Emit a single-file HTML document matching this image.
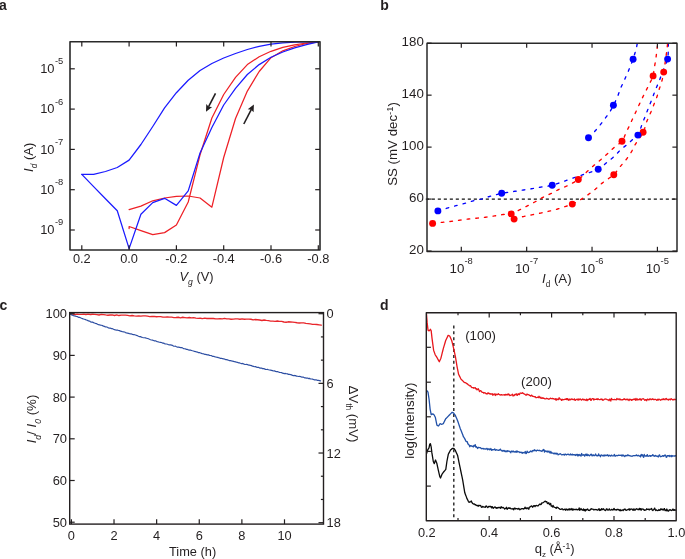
<!DOCTYPE html>
<html><head><meta charset="utf-8"><style>
html,body{margin:0;padding:0;background:#fff;width:685px;height:559px;overflow:hidden}
svg{display:block;will-change:transform}
text{font-family:"Liberation Sans", sans-serif;fill:#231f20}
</style></head><body>
<svg width="685" height="559" viewBox="0 0 685 559">
<text x="-1.00" y="9.60" font-size="14" text-anchor="start" font-weight="bold">a</text>
<text x="380.30" y="9.70" font-size="14" text-anchor="start" font-weight="bold">b</text>
<text x="-0.60" y="309.70" font-size="14" text-anchor="start" font-weight="bold">c</text>
<text x="380.00" y="309.90" font-size="14" text-anchor="start" font-weight="bold">d</text>
<path d="M129.10,228.60 L129.10,226.50 L140.92,230.70 L152.75,234.70 L164.57,232.60 L176.40,225.00 L188.22,202.00 L200.05,154.80 L211.88,118.00 L223.70,94.50 L235.52,77.40 L247.35,64.60 L259.18,56.70 L271.00,51.30 L282.83,47.30 L294.65,44.80 L306.48,43.00 L318.30,41.80" fill="none" stroke="#ee2026" stroke-width="1.25" stroke-linejoin="round" stroke-linecap="round" />
<path d="M129.10,209.60 L140.92,206.10 L152.75,200.80 L164.57,198.00 L176.40,196.30 L188.22,196.00 L200.05,198.00 L211.88,207.20 L223.70,157.50 L235.52,118.50 L247.35,91.10 L259.18,71.50 L271.00,57.70 L282.83,50.80 L294.65,46.50 L306.48,43.50 L318.30,41.80" fill="none" stroke="#ee2026" stroke-width="1.25" stroke-linejoin="round" stroke-linecap="round" />
<path d="M81.80,174.40 L93.62,174.40 L105.45,171.50 L117.27,167.50 L129.10,160.10 L140.92,144.50 L152.75,126.50 L164.57,107.80 L176.40,92.70 L188.22,80.30 L200.05,70.50 L211.88,63.50 L223.70,58.00 L235.52,53.50 L247.35,49.50 L259.18,46.30 L271.00,44.20 L282.83,42.80 L294.65,42.10 L306.48,41.80 L318.30,41.60" fill="none" stroke="#1a1aff" stroke-width="1.25" stroke-linejoin="round" stroke-linecap="round" />
<path d="M81.80,174.40 L93.62,186.60 L105.45,198.70 L117.27,210.80 L129.10,248.60 L140.92,214.20 L152.75,202.60 L164.57,198.30 L176.40,205.40 L188.22,190.90 L200.05,153.00 L211.88,127.50 L223.70,105.00 L235.52,88.30 L247.35,74.50 L259.18,64.60 L271.00,57.30 L282.83,52.00 L294.65,47.80 L306.48,44.60 L318.30,41.80" fill="none" stroke="#1a1aff" stroke-width="1.25" stroke-linejoin="round" stroke-linecap="round" />
<line x1="215.50" y1="93.30" x2="208.51" y2="106.91" stroke="#231f20" stroke-width="1.6" stroke-linecap="butt"/>
<path d="M206.00,111.80 L206.26,104.07 L208.65,106.64 L212.13,107.08 Z" fill="#231f20"/>
<line x1="243.80" y1="124.00" x2="251.36" y2="109.48" stroke="#231f20" stroke-width="1.6" stroke-linecap="butt"/>
<path d="M253.90,104.60 L253.59,112.33 L251.22,109.74 L247.74,109.29 Z" fill="#231f20"/>
<rect x="70.0" y="41.8" width="250.0" height="208.2" fill="none" stroke="#2a2a2a" stroke-width="1.6" stroke-linejoin="round"/>
<line x1="81.80" y1="41.80" x2="81.80" y2="46.60" stroke="#231f20" stroke-width="1.2" />
<line x1="81.80" y1="250.00" x2="81.80" y2="245.20" stroke="#231f20" stroke-width="1.2" />
<text x="81.80" y="262.60" font-size="12.8" text-anchor="middle" >0.2</text>
<line x1="129.10" y1="41.80" x2="129.10" y2="46.60" stroke="#231f20" stroke-width="1.2" />
<line x1="129.10" y1="250.00" x2="129.10" y2="245.20" stroke="#231f20" stroke-width="1.2" />
<text x="129.10" y="262.60" font-size="12.8" text-anchor="middle" >0.0</text>
<line x1="176.40" y1="41.80" x2="176.40" y2="46.60" stroke="#231f20" stroke-width="1.2" />
<line x1="176.40" y1="250.00" x2="176.40" y2="245.20" stroke="#231f20" stroke-width="1.2" />
<text x="176.40" y="262.60" font-size="12.8" text-anchor="middle" >-0.2</text>
<line x1="223.70" y1="41.80" x2="223.70" y2="46.60" stroke="#231f20" stroke-width="1.2" />
<line x1="223.70" y1="250.00" x2="223.70" y2="245.20" stroke="#231f20" stroke-width="1.2" />
<text x="223.70" y="262.60" font-size="12.8" text-anchor="middle" >-0.4</text>
<line x1="271.00" y1="41.80" x2="271.00" y2="46.60" stroke="#231f20" stroke-width="1.2" />
<line x1="271.00" y1="250.00" x2="271.00" y2="245.20" stroke="#231f20" stroke-width="1.2" />
<text x="271.00" y="262.60" font-size="12.8" text-anchor="middle" >-0.6</text>
<line x1="318.30" y1="41.80" x2="318.30" y2="46.60" stroke="#231f20" stroke-width="1.2" />
<line x1="318.30" y1="250.00" x2="318.30" y2="245.20" stroke="#231f20" stroke-width="1.2" />
<text x="318.30" y="262.60" font-size="12.8" text-anchor="middle" >-0.8</text>
<line x1="70.00" y1="68.80" x2="74.80" y2="68.80" stroke="#231f20" stroke-width="1.2" />
<line x1="320.00" y1="68.80" x2="315.20" y2="68.80" stroke="#231f20" stroke-width="1.2" />
<text x="54.50" y="73.10" font-size="12.9" text-anchor="end" >10</text>
<text x="55.00" y="64.20" font-size="9.4" text-anchor="start" >-5</text>
<line x1="70.00" y1="109.10" x2="74.80" y2="109.10" stroke="#231f20" stroke-width="1.2" />
<line x1="320.00" y1="109.10" x2="315.20" y2="109.10" stroke="#231f20" stroke-width="1.2" />
<text x="54.50" y="113.40" font-size="12.9" text-anchor="end" >10</text>
<text x="55.00" y="104.50" font-size="9.4" text-anchor="start" >-6</text>
<line x1="70.00" y1="149.40" x2="74.80" y2="149.40" stroke="#231f20" stroke-width="1.2" />
<line x1="320.00" y1="149.40" x2="315.20" y2="149.40" stroke="#231f20" stroke-width="1.2" />
<text x="54.50" y="153.70" font-size="12.9" text-anchor="end" >10</text>
<text x="55.00" y="144.80" font-size="9.4" text-anchor="start" >-7</text>
<line x1="70.00" y1="189.70" x2="74.80" y2="189.70" stroke="#231f20" stroke-width="1.2" />
<line x1="320.00" y1="189.70" x2="315.20" y2="189.70" stroke="#231f20" stroke-width="1.2" />
<text x="54.50" y="194.00" font-size="12.9" text-anchor="end" >10</text>
<text x="55.00" y="185.10" font-size="9.4" text-anchor="start" >-8</text>
<line x1="70.00" y1="230.00" x2="74.80" y2="230.00" stroke="#231f20" stroke-width="1.2" />
<line x1="320.00" y1="230.00" x2="315.20" y2="230.00" stroke="#231f20" stroke-width="1.2" />
<text x="54.50" y="234.30" font-size="12.9" text-anchor="end" >10</text>
<text x="55.00" y="225.40" font-size="9.4" text-anchor="start" >-9</text>
<text transform="translate(33.3,157.3) rotate(-90)" font-size="13" text-anchor="middle"><tspan font-style="italic">I</tspan><tspan font-size="8.4" font-style="italic" dy="3.9">d</tspan><tspan dy="-3.9"> (A)</tspan></text>
<text x="196.5" y="281.2" font-size="12.8" text-anchor="middle"><tspan font-style="italic">V</tspan><tspan font-size="8.6" font-style="italic" dy="3.4">g</tspan><tspan dy="-3.4"> (V)</tspan></text>
<defs><clipPath id="cb"><rect x="427.0" y="43.2" width="250.0" height="208.2"/></clipPath></defs>
<line x1="425.80" y1="199.08" x2="677.00" y2="199.08" stroke="#111" stroke-width="1.4" stroke-dasharray="3.1,2.9"/>
<path d="M588.50,137.70 L589.20,137.00 L589.91,136.32 L590.61,135.63 L591.31,134.94 L592.02,134.25 L592.72,133.55 L593.41,132.83 L594.10,132.10 L594.81,131.32 L595.52,130.52 L596.22,129.71 L596.92,128.88 L597.62,128.05 L598.32,127.21 L599.01,126.36 L599.70,125.50 L600.42,124.59 L601.15,123.66 L601.88,122.72 L602.60,121.76 L603.32,120.81 L604.02,119.86 L604.72,118.92 L605.40,118.00 L606.02,117.16 L606.64,116.32 L607.25,115.50 L607.86,114.67 L608.45,113.85 L609.02,113.04 L609.57,112.22 L610.10,111.40 L610.56,110.66 L610.99,109.93 L611.40,109.20 L611.80,108.48 L612.19,107.75 L612.59,106.99 L612.99,106.21 L613.40,105.40 L613.92,104.36 L614.46,103.27 L615.01,102.14 L615.56,100.98 L616.10,99.82 L616.63,98.65 L617.13,97.51 L617.60,96.40 L617.99,95.43 L618.34,94.49 L618.67,93.56 L618.99,92.63 L619.31,91.70 L619.65,90.76 L620.00,89.80 L620.40,88.80 L620.92,87.58 L621.48,86.31 L622.07,85.02 L622.68,83.71 L623.30,82.39 L623.92,81.08 L624.52,79.78 L625.10,78.50 L625.63,77.31 L626.16,76.13 L626.68,74.96 L627.20,73.80 L627.70,72.63 L628.21,71.46 L628.71,70.29 L629.20,69.10 L629.70,67.88 L630.19,66.65 L630.69,65.42 L631.17,64.18 L631.65,62.93 L632.11,61.69 L632.56,60.44 L633.00,59.20 L633.42,57.97 L633.83,56.72 L634.23,55.47 L634.62,54.22 L635.00,52.98 L635.35,51.76 L635.69,50.56 L636.00,49.40 L636.24,48.43 L636.46,47.48 L636.67,46.56 L636.86,45.64 L637.04,44.73 L637.22,43.83 L637.41,42.92 L637.60,42.00" fill="none" stroke="#0000ff" stroke-width="1.35" stroke-linejoin="round" stroke-linecap="round" stroke-dasharray="2.6,6.1" stroke-linecap="butt" clip-path="url(#cb)"/>
<path d="M437.90,210.90 L439.05,210.56 L440.20,210.22 L441.35,209.88 L442.50,209.54 L443.65,209.21 L444.80,208.87 L445.95,208.53 L447.10,208.20 L448.24,207.87 L449.38,207.54 L450.53,207.20 L451.67,206.87 L452.81,206.55 L453.94,206.22 L455.07,205.91 L456.20,205.60 L457.29,205.31 L458.37,205.04 L459.45,204.77 L460.52,204.51 L461.59,204.24 L462.66,203.97 L463.73,203.69 L464.80,203.40 L465.87,203.09 L466.94,202.76 L468.00,202.42 L469.07,202.07 L470.13,201.73 L471.19,201.40 L472.25,201.09 L473.30,200.80 L474.30,200.56 L475.28,200.34 L476.27,200.14 L477.25,199.95 L478.23,199.77 L479.21,199.57 L480.20,199.35 L481.20,199.10 L482.25,198.81 L483.30,198.49 L484.34,198.15 L485.39,197.81 L486.46,197.45 L487.54,197.09 L488.65,196.74 L489.80,196.40 L491.22,196.00 L492.73,195.57 L494.29,195.14 L495.88,194.71 L497.45,194.30 L498.96,193.92 L500.39,193.59 L501.70,193.30 L502.52,193.14 L503.29,193.01 L504.01,192.89 L504.71,192.80 L505.40,192.70 L506.10,192.61 L506.82,192.51 L507.60,192.40 L508.59,192.25 L509.62,192.09 L510.67,191.93 L511.75,191.76 L512.84,191.60 L513.94,191.43 L515.03,191.26 L516.10,191.10 L517.16,190.94 L518.22,190.78 L519.28,190.62 L520.34,190.45 L521.40,190.29 L522.46,190.13 L523.53,189.97 L524.60,189.80 L525.70,189.63 L526.82,189.46 L527.93,189.29 L529.05,189.11 L530.17,188.94 L531.29,188.76 L532.40,188.58 L533.50,188.40 L534.57,188.22 L535.62,188.03 L536.67,187.85 L537.71,187.66 L538.76,187.47 L539.82,187.28 L540.90,187.09 L542.00,186.90 L543.25,186.71 L544.54,186.53 L545.85,186.35 L547.18,186.18 L548.50,185.99 L549.78,185.79 L551.03,185.56 L552.20,185.30 L553.12,185.06 L553.99,184.80 L554.83,184.52 L555.65,184.23 L556.46,183.93 L557.28,183.62 L558.13,183.31 L559.00,183.00 L560.02,182.65 L561.06,182.28 L562.11,181.91 L563.18,181.53 L564.26,181.15 L565.34,180.76 L566.42,180.38 L567.50,180.00 L568.60,179.61 L569.71,179.22 L570.82,178.82 L571.93,178.43 L573.04,178.04 L574.14,177.65 L575.23,177.27 L576.30,176.90 L577.26,176.57 L578.20,176.26 L579.13,175.95 L580.05,175.64 L580.97,175.34 L581.90,175.03 L582.84,174.72 L583.80,174.40 L584.88,174.05 L586.00,173.68 L587.14,173.32 L588.28,172.95 L589.42,172.58 L590.53,172.22 L591.59,171.85 L592.60,171.50 L593.36,171.24 L594.07,171.00 L594.76,170.78 L595.43,170.55 L596.09,170.30 L596.77,170.02 L597.47,169.70 L598.20,169.30 L599.30,168.61 L600.45,167.79 L601.65,166.87 L602.86,165.89 L604.08,164.86 L605.29,163.84 L606.47,162.84 L607.60,161.90 L608.60,161.09 L609.58,160.30 L610.56,159.51 L611.52,158.72 L612.46,157.94 L613.37,157.16 L614.25,156.38 L615.10,155.60 L615.79,154.92 L616.44,154.24 L617.06,153.56 L617.66,152.89 L618.26,152.21 L618.87,151.54 L619.52,150.87 L620.20,150.20 L621.01,149.47 L621.86,148.74 L622.74,148.02 L623.64,147.30 L624.54,146.58 L625.45,145.86 L626.34,145.13 L627.20,144.40 L628.03,143.67 L628.86,142.92 L629.68,142.17 L630.50,141.41 L631.30,140.66 L632.09,139.94 L632.86,139.25 L633.60,138.60 L634.18,138.14 L634.75,137.73 L635.31,137.36 L635.86,137.00 L636.40,136.62 L636.92,136.19 L637.42,135.69 L637.90,135.10 L638.57,134.00 L639.18,132.68 L639.75,131.21 L640.29,129.63 L640.80,128.01 L641.30,126.41 L641.79,124.89 L642.30,123.50 L642.72,122.45 L643.13,121.45 L643.53,120.48 L643.93,119.52 L644.33,118.58 L644.72,117.64 L645.11,116.68 L645.50,115.70 L645.90,114.66 L646.30,113.60 L646.70,112.53 L647.10,111.46 L647.49,110.39 L647.89,109.32 L648.29,108.25 L648.70,107.20 L649.11,106.18 L649.52,105.17 L649.93,104.16 L650.35,103.16 L650.77,102.15 L651.18,101.14 L651.60,100.13 L652.00,99.10 L652.41,98.03 L652.81,96.93 L653.21,95.83 L653.60,94.73 L653.99,93.63 L654.39,92.53 L654.79,91.46 L655.20,90.40 L655.59,89.44 L655.99,88.49 L656.39,87.57 L656.79,86.65 L657.20,85.73 L657.60,84.80 L658.00,83.86 L658.40,82.90 L658.82,81.86 L659.23,80.79 L659.65,79.72 L660.06,78.64 L660.47,77.55 L660.88,76.46 L661.29,75.38 L661.70,74.30 L662.10,73.23 L662.51,72.15 L662.91,71.06 L663.32,69.98 L663.72,68.91 L664.11,67.85 L664.51,66.81 L664.90,65.80 L665.26,64.95 L665.63,64.15 L666.00,63.38 L666.37,62.62 L666.72,61.83 L667.05,61.00 L667.35,60.10 L667.60,59.10 L667.89,57.36 L668.09,55.40 L668.20,53.29 L668.25,51.06 L668.28,48.77 L668.30,46.47 L668.33,44.19 L668.40,42.00" fill="none" stroke="#0000ff" stroke-width="1.35" stroke-linejoin="round" stroke-linecap="round" stroke-dasharray="2.6,6.1" stroke-linecap="butt" clip-path="url(#cb)"/>
<path d="M432.60,223.40 L433.84,223.26 L435.09,223.12 L436.35,222.98 L437.60,222.84 L438.84,222.70 L440.08,222.57 L441.30,222.43 L442.50,222.30 L443.59,222.18 L444.66,222.07 L445.72,221.97 L446.77,221.86 L447.82,221.76 L448.87,221.65 L449.93,221.53 L451.00,221.40 L452.14,221.25 L453.28,221.10 L454.44,220.93 L455.60,220.76 L456.76,220.59 L457.92,220.42 L459.06,220.26 L460.20,220.10 L461.28,219.95 L462.35,219.81 L463.41,219.67 L464.47,219.53 L465.52,219.39 L466.58,219.26 L467.64,219.13 L468.70,219.00 L469.77,218.88 L470.84,218.76 L471.91,218.65 L472.98,218.54 L474.05,218.43 L475.13,218.32 L476.21,218.21 L477.30,218.10 L478.44,217.98 L479.58,217.86 L480.73,217.75 L481.88,217.63 L483.04,217.51 L484.19,217.38 L485.35,217.24 L486.50,217.10 L487.65,216.94 L488.81,216.78 L489.97,216.60 L491.12,216.42 L492.28,216.24 L493.43,216.06 L494.57,215.88 L495.70,215.70 L496.78,215.53 L497.87,215.35 L498.95,215.17 L500.02,215.00 L501.09,214.83 L502.14,214.67 L503.18,214.52 L504.20,214.40 L505.10,214.33 L505.98,214.30 L506.84,214.29 L507.70,214.29 L508.56,214.27 L509.42,214.22 L510.30,214.10 L511.20,213.90 L512.34,213.53 L513.51,213.05 L514.70,212.48 L515.90,211.85 L517.10,211.19 L518.29,210.53 L519.46,209.89 L520.60,209.30 L521.61,208.80 L522.60,208.31 L523.58,207.83 L524.55,207.35 L525.51,206.87 L526.47,206.39 L527.43,205.90 L528.40,205.40 L529.38,204.89 L530.36,204.37 L531.34,203.85 L532.31,203.33 L533.29,202.80 L534.26,202.27 L535.23,201.73 L536.20,201.20 L537.15,200.66 L538.10,200.12 L539.05,199.57 L539.99,199.02 L540.93,198.47 L541.88,197.94 L542.84,197.41 L543.80,196.90 L544.77,196.41 L545.76,195.94 L546.75,195.49 L547.74,195.04 L548.73,194.59 L549.73,194.14 L550.72,193.68 L551.70,193.20 L552.68,192.70 L553.65,192.19 L554.62,191.66 L555.59,191.13 L556.56,190.60 L557.54,190.09 L558.51,189.58 L559.50,189.10 L560.48,188.65 L561.46,188.24 L562.44,187.85 L563.43,187.46 L564.42,187.06 L565.43,186.65 L566.45,186.20 L567.50,185.70 L568.79,185.05 L570.13,184.37 L571.49,183.66 L572.87,182.91 L574.26,182.12 L575.63,181.29 L576.99,180.42 L578.30,179.50 L579.68,178.44 L581.06,177.28 L582.43,176.04 L583.78,174.78 L585.10,173.51 L586.38,172.27 L587.62,171.09 L588.80,170.00 L589.66,169.23 L590.47,168.50 L591.25,167.80 L592.01,167.12 L592.76,166.45 L593.52,165.78 L594.29,165.10 L595.10,164.40 L596.01,163.62 L596.94,162.84 L597.89,162.05 L598.86,161.25 L599.82,160.46 L600.77,159.66 L601.70,158.88 L602.60,158.10 L603.41,157.39 L604.19,156.69 L604.97,156.00 L605.73,155.31 L606.49,154.62 L607.25,153.92 L608.02,153.22 L608.80,152.50 L609.64,151.72 L610.48,150.93 L611.33,150.12 L612.18,149.31 L613.03,148.50 L613.89,147.71 L614.74,146.94 L615.60,146.20 L616.41,145.56 L617.26,144.98 L618.11,144.42 L618.96,143.87 L619.79,143.31 L620.58,142.70 L621.32,142.04 L622.00,141.30 L622.65,140.39 L623.22,139.39 L623.73,138.33 L624.20,137.22 L624.65,136.09 L625.09,134.96 L625.53,133.85 L626.00,132.80 L626.45,131.86 L626.89,130.95 L627.32,130.04 L627.75,129.15 L628.19,128.25 L628.62,127.35 L629.06,126.43 L629.50,125.50 L629.98,124.48 L630.47,123.44 L630.95,122.38 L631.45,121.32 L631.94,120.26 L632.43,119.20 L632.92,118.14 L633.40,117.10 L633.87,116.10 L634.33,115.12 L634.79,114.14 L635.25,113.16 L635.70,112.19 L636.17,111.20 L636.63,110.21 L637.10,109.20 L637.60,108.11 L638.11,107.00 L638.63,105.87 L639.14,104.74 L639.66,103.61 L640.17,102.49 L640.69,101.38 L641.20,100.30 L641.68,99.31 L642.15,98.33 L642.63,97.36 L643.10,96.40 L643.57,95.45 L644.05,94.50 L644.52,93.55 L645.00,92.60 L645.47,91.66 L645.94,90.74 L646.42,89.82 L646.89,88.89 L647.37,87.97 L647.84,87.03 L648.32,86.08 L648.80,85.10 L649.35,83.99 L649.95,82.85 L650.55,81.68 L651.15,80.50 L651.73,79.32 L652.26,78.16 L652.72,77.01 L653.10,75.90 L653.33,75.01 L653.50,74.16 L653.63,73.32 L653.72,72.48 L653.80,71.64 L653.88,70.79 L653.97,69.91 L654.10,69.00 L654.29,67.86 L654.50,66.68 L654.73,65.46 L654.96,64.22 L655.19,62.97 L655.41,61.72 L655.61,60.50 L655.80,59.30 L655.95,58.20 L656.09,57.12 L656.21,56.04 L656.33,54.97 L656.44,53.91 L656.56,52.84 L656.67,51.77 L656.80,50.70 L656.93,49.61 L657.07,48.53 L657.21,47.44 L657.34,46.35 L657.48,45.26 L657.62,44.18 L657.76,43.09 L657.90,42.00" fill="none" stroke="#ff0000" stroke-width="1.35" stroke-linejoin="round" stroke-linecap="round" stroke-dasharray="2.6,6.1" stroke-linecap="butt" clip-path="url(#cb)"/>
<path d="M514.10,219.00 L515.00,218.75 L515.89,218.49 L516.78,218.23 L517.67,217.98 L518.56,217.72 L519.46,217.47 L520.37,217.23 L521.30,217.00 L522.29,216.77 L523.30,216.55 L524.31,216.33 L525.34,216.12 L526.37,215.92 L527.41,215.72 L528.45,215.51 L529.50,215.30 L530.61,215.08 L531.73,214.85 L532.86,214.63 L533.99,214.40 L535.13,214.18 L536.26,213.95 L537.38,213.73 L538.50,213.50 L539.57,213.28 L540.64,213.06 L541.71,212.84 L542.76,212.62 L543.82,212.40 L544.88,212.17 L545.94,211.94 L547.00,211.70 L548.08,211.45 L549.16,211.21 L550.24,210.96 L551.32,210.70 L552.39,210.44 L553.47,210.17 L554.54,209.89 L555.60,209.60 L556.64,209.30 L557.67,208.99 L558.69,208.67 L559.71,208.35 L560.73,208.02 L561.75,207.68 L562.77,207.34 L563.80,207.00 L564.86,206.66 L565.93,206.32 L567.01,205.99 L568.09,205.64 L569.16,205.29 L570.22,204.92 L571.27,204.52 L572.30,204.10 L573.30,203.65 L574.28,203.18 L575.25,202.69 L576.21,202.18 L577.16,201.65 L578.11,201.11 L579.05,200.56 L580.00,200.00 L580.97,199.42 L581.93,198.81 L582.89,198.19 L583.85,197.56 L584.80,196.93 L585.74,196.28 L586.68,195.64 L587.60,195.00 L588.48,194.39 L589.34,193.78 L590.20,193.18 L591.05,192.57 L591.89,191.95 L592.73,191.32 L593.56,190.67 L594.40,190.00 L595.27,189.27 L596.13,188.50 L596.99,187.70 L597.85,186.90 L598.70,186.09 L599.56,185.30 L600.42,184.53 L601.30,183.80 L602.15,183.13 L603.02,182.47 L603.90,181.84 L604.78,181.21 L605.65,180.60 L606.52,179.99 L607.37,179.40 L608.20,178.80 L608.93,178.28 L609.66,177.79 L610.37,177.32 L611.07,176.85 L611.77,176.37 L612.46,175.86 L613.13,175.31 L613.80,174.70 L614.55,173.93 L615.26,173.10 L615.96,172.22 L616.65,171.30 L617.34,170.35 L618.04,169.40 L618.76,168.44 L619.50,167.50 L620.36,166.46 L621.26,165.41 L622.18,164.34 L623.11,163.26 L624.03,162.18 L624.93,161.10 L625.79,160.04 L626.60,159.00 L627.26,158.11 L627.89,157.24 L628.50,156.37 L629.08,155.51 L629.65,154.65 L630.21,153.78 L630.76,152.90 L631.30,152.00 L631.82,151.09 L632.31,150.17 L632.78,149.25 L633.24,148.33 L633.70,147.38 L634.19,146.42 L634.72,145.42 L635.30,144.40 L636.16,143.02 L637.14,141.57 L638.19,140.07 L639.27,138.55 L640.34,137.00 L641.37,135.45 L642.30,133.91 L643.10,132.40 L643.68,131.09 L644.18,129.77 L644.61,128.45 L645.00,127.14 L645.38,125.83 L645.75,124.53 L646.15,123.26 L646.60,122.00 L647.06,120.84 L647.54,119.69 L648.03,118.56 L648.53,117.44 L649.04,116.33 L649.53,115.22 L650.02,114.11 L650.50,113.00 L650.95,111.91 L651.40,110.81 L651.85,109.72 L652.29,108.63 L652.72,107.54 L653.15,106.45 L653.58,105.37 L654.00,104.30 L654.40,103.27 L654.81,102.26 L655.21,101.24 L655.61,100.23 L656.00,99.23 L656.38,98.22 L656.75,97.21 L657.10,96.20 L657.43,95.21 L657.74,94.23 L658.04,93.25 L658.33,92.27 L658.61,91.29 L658.90,90.30 L659.20,89.30 L659.50,88.30 L659.84,87.24 L660.19,86.17 L660.55,85.08 L660.91,84.00 L661.26,82.91 L661.60,81.83 L661.91,80.76 L662.20,79.70 L662.43,78.76 L662.64,77.86 L662.82,76.98 L663.00,76.10 L663.16,75.19 L663.33,74.24 L663.51,73.22 L663.70,72.10 L664.03,70.08 L664.39,67.79 L664.77,65.31 L665.14,62.71 L665.52,60.09 L665.87,57.53 L666.20,55.10 L666.50,52.90 L666.70,51.39 L666.87,49.96 L667.04,48.59 L667.19,47.26 L667.34,45.95 L667.49,44.65 L667.64,43.34 L667.80,42.00" fill="none" stroke="#ff0000" stroke-width="1.35" stroke-linejoin="round" stroke-linecap="round" stroke-dasharray="2.6,6.1" stroke-linecap="butt" clip-path="url(#cb)"/>
<circle cx="432.6" cy="223.4" r="3.45" fill="#ff0000"/>
<circle cx="511.2" cy="213.9" r="3.45" fill="#ff0000"/>
<circle cx="578.3" cy="179.5" r="3.45" fill="#ff0000"/>
<circle cx="622" cy="141.3" r="3.45" fill="#ff0000"/>
<circle cx="653.1" cy="75.9" r="3.45" fill="#ff0000"/>
<circle cx="514.1" cy="219.1" r="3.45" fill="#ff0000"/>
<circle cx="572.3" cy="204.1" r="3.45" fill="#ff0000"/>
<circle cx="613.8" cy="174.7" r="3.45" fill="#ff0000"/>
<circle cx="643.1" cy="132.3" r="3.45" fill="#ff0000"/>
<circle cx="663.7" cy="72.1" r="3.45" fill="#ff0000"/>
<circle cx="588.5" cy="137.8" r="3.45" fill="#0000ff"/>
<circle cx="613.4" cy="105.3" r="3.45" fill="#0000ff"/>
<circle cx="633.1" cy="59.2" r="3.45" fill="#0000ff"/>
<circle cx="437.9" cy="210.9" r="3.45" fill="#0000ff"/>
<circle cx="501.7" cy="193.3" r="3.45" fill="#0000ff"/>
<circle cx="552.2" cy="185.3" r="3.45" fill="#0000ff"/>
<circle cx="598.2" cy="169.3" r="3.45" fill="#0000ff"/>
<circle cx="637.9" cy="135.1" r="3.45" fill="#0000ff"/>
<circle cx="667.6" cy="59.1" r="3.45" fill="#0000ff"/>
<rect x="427.0" y="43.2" width="250.0" height="208.2" fill="none" stroke="#2a2a2a" stroke-width="1.5" stroke-linejoin="round"/>
<line x1="461.30" y1="43.20" x2="461.30" y2="47.80" stroke="#231f20" stroke-width="1.2" />
<line x1="461.30" y1="251.40" x2="461.30" y2="246.80" stroke="#231f20" stroke-width="1.2" />
<text x="464.40" y="272.60" font-size="13.3" text-anchor="end" >10</text>
<text x="464.50" y="263.80" font-size="9.4" text-anchor="start" >-8</text>
<line x1="526.67" y1="43.20" x2="526.67" y2="47.80" stroke="#231f20" stroke-width="1.2" />
<line x1="526.67" y1="251.40" x2="526.67" y2="246.80" stroke="#231f20" stroke-width="1.2" />
<text x="529.77" y="272.60" font-size="13.3" text-anchor="end" >10</text>
<text x="529.87" y="263.80" font-size="9.4" text-anchor="start" >-7</text>
<line x1="592.04" y1="43.20" x2="592.04" y2="47.80" stroke="#231f20" stroke-width="1.2" />
<line x1="592.04" y1="251.40" x2="592.04" y2="246.80" stroke="#231f20" stroke-width="1.2" />
<text x="595.14" y="272.60" font-size="13.3" text-anchor="end" >10</text>
<text x="595.24" y="263.80" font-size="9.4" text-anchor="start" >-6</text>
<line x1="657.41" y1="43.20" x2="657.41" y2="47.80" stroke="#231f20" stroke-width="1.2" />
<line x1="657.41" y1="251.40" x2="657.41" y2="246.80" stroke="#231f20" stroke-width="1.2" />
<text x="660.51" y="272.60" font-size="13.3" text-anchor="end" >10</text>
<text x="660.61" y="263.80" font-size="9.4" text-anchor="start" >-5</text>
<line x1="427.00" y1="251.04" x2="431.60" y2="251.04" stroke="#231f20" stroke-width="1.2" />
<line x1="677.00" y1="251.04" x2="672.40" y2="251.04" stroke="#231f20" stroke-width="1.2" />
<text x="423.80" y="253.94" font-size="13.3" text-anchor="end" >20</text>
<line x1="427.00" y1="199.08" x2="431.60" y2="199.08" stroke="#231f20" stroke-width="1.2" />
<line x1="677.00" y1="199.08" x2="672.40" y2="199.08" stroke="#231f20" stroke-width="1.2" />
<text x="423.80" y="201.98" font-size="13.3" text-anchor="end" >60</text>
<line x1="427.00" y1="147.12" x2="431.60" y2="147.12" stroke="#231f20" stroke-width="1.2" />
<line x1="677.00" y1="147.12" x2="672.40" y2="147.12" stroke="#231f20" stroke-width="1.2" />
<text x="423.80" y="150.02" font-size="13.3" text-anchor="end" >100</text>
<line x1="427.00" y1="95.16" x2="431.60" y2="95.16" stroke="#231f20" stroke-width="1.2" />
<line x1="677.00" y1="95.16" x2="672.40" y2="95.16" stroke="#231f20" stroke-width="1.2" />
<text x="423.80" y="98.06" font-size="13.3" text-anchor="end" >140</text>
<line x1="427.00" y1="43.20" x2="431.60" y2="43.20" stroke="#231f20" stroke-width="1.2" />
<line x1="677.00" y1="43.20" x2="672.40" y2="43.20" stroke="#231f20" stroke-width="1.2" />
<text x="423.80" y="46.10" font-size="13.3" text-anchor="end" >180</text>
<text transform="translate(397.4,144) rotate(-90)" font-size="13.3" text-anchor="middle">SS (mV dec<tspan font-size="9.4" dy="-4.8">-1</tspan><tspan dy="4.8">)</tspan></text>
<text x="556.8" y="282.5" font-size="13.3" text-anchor="middle"><tspan font-style="italic">I</tspan><tspan font-size="8.2" dy="4.2">d</tspan><tspan dy="-4.2"> (A)</tspan></text>
<path d="M70.50,314.16 L72.70,314.05 L74.90,314.48 L77.10,314.05 L79.30,314.44 L81.50,314.33 L83.70,314.12 L85.90,314.51 L88.10,314.16 L90.30,314.51 L92.50,314.25 L94.70,314.30 L96.90,314.61 L99.10,314.97 L101.30,314.45 L103.50,314.57 L105.70,314.94 L107.90,315.26 L110.10,315.02 L112.30,314.94 L114.50,315.48 L116.70,314.81 L118.90,315.54 L121.10,315.16 L123.30,315.13 L125.50,315.19 L127.70,315.43 L129.90,315.93 L132.10,315.51 L134.30,315.92 L136.50,316.05 L138.70,315.93 L140.90,316.15 L143.10,315.85 L145.30,315.93 L147.50,316.12 L149.70,316.58 L151.90,316.45 L154.10,316.44 L156.30,316.73 L158.50,316.70 L160.70,316.65 L162.90,317.12 L165.10,317.12 L167.30,316.83 L169.50,317.17 L171.70,317.20 L173.90,317.56 L176.10,317.52 L178.30,317.24 L180.50,317.87 L182.70,317.25 L184.90,317.57 L187.10,317.92 L189.30,317.52 L191.50,317.88 L193.70,317.61 L195.90,318.20 L198.10,318.35 L200.30,318.27 L202.50,318.57 L204.70,318.17 L206.90,318.53 L209.10,318.49 L211.30,318.52 L213.50,318.47 L215.70,318.82 L217.90,318.95 L220.10,318.62 L222.30,318.81 L224.50,318.37 L226.70,318.92 L228.90,318.92 L231.10,319.25 L233.30,319.16 L235.50,318.80 L237.70,318.95 L239.90,319.26 L242.10,318.82 L244.30,319.27 L246.50,319.13 L248.70,319.19 L250.90,319.25 L253.10,319.93 L255.30,319.53 L257.50,319.75 L259.70,319.98 L261.90,320.49 L264.10,319.99 L266.30,320.42 L268.50,320.64 L270.70,321.05 L272.90,321.15 L275.10,321.34 L277.30,321.03 L279.50,321.31 L281.70,321.43 L283.90,322.02 L286.10,322.26 L288.30,321.79 L290.50,321.99 L292.70,322.20 L294.90,322.38 L297.10,322.76 L299.30,323.02 L301.50,322.94 L303.70,322.91 L305.90,323.42 L308.10,323.57 L310.30,323.93 L312.50,324.44 L314.70,324.44 L316.90,324.53 L319.10,324.84 L321.30,325.11" fill="none" stroke="#e8262b" stroke-width="1.35" stroke-linejoin="round" stroke-linecap="round" />
<path d="M70.50,314.08 L71.50,314.87 L72.50,315.18 L73.50,315.60 L74.50,315.93 L75.50,316.10 L76.50,316.48 L77.50,316.70 L78.50,317.34 L79.50,317.42 L80.50,317.79 L81.50,318.23 L82.50,318.58 L83.50,319.03 L84.50,319.25 L85.50,319.59 L86.50,320.03 L87.50,320.37 L88.50,320.85 L89.50,321.04 L90.50,321.82 L91.50,322.05 L92.50,322.17 L93.50,322.58 L94.50,322.98 L95.50,323.34 L96.50,323.57 L97.50,324.28 L98.50,324.71 L99.50,324.79 L100.50,325.14 L101.50,325.28 L102.50,325.63 L103.50,326.08 L104.50,326.37 L105.50,326.98 L106.50,326.96 L107.50,327.21 L108.50,327.98 L109.50,328.07 L110.50,328.17 L111.50,328.66 L112.50,328.69 L113.50,329.21 L114.50,329.71 L115.50,329.93 L116.50,330.11 L117.50,330.16 L118.50,330.48 L119.50,330.64 L120.50,331.21 L121.50,331.36 L122.50,331.74 L123.50,331.79 L124.50,332.00 L125.50,332.57 L126.50,332.93 L127.50,333.14 L128.50,333.40 L129.50,333.69 L130.50,333.93 L131.50,333.96 L132.50,334.39 L133.50,334.59 L134.50,334.71 L135.50,335.00 L136.50,335.41 L137.50,335.68 L138.50,336.19 L139.50,336.60 L140.50,336.63 L141.50,337.16 L142.50,337.48 L143.50,337.74 L144.50,337.73 L145.50,337.95 L146.50,338.23 L147.50,338.50 L148.50,338.80 L149.50,339.29 L150.50,339.72 L151.50,339.98 L152.50,340.09 L153.50,340.46 L154.50,340.82 L155.50,340.75 L156.50,341.33 L157.50,341.74 L158.50,341.96 L159.50,342.23 L160.50,342.37 L161.50,342.50 L162.50,343.09 L163.50,343.13 L164.50,343.64 L165.50,344.00 L166.50,343.98 L167.50,344.24 L168.50,344.78 L169.50,344.93 L170.50,344.91 L171.50,345.14 L172.50,345.41 L173.50,346.04 L174.50,346.25 L175.50,346.17 L176.50,346.76 L177.50,347.09 L178.50,347.18 L179.50,347.28 L180.50,347.64 L181.50,347.69 L182.50,347.89 L183.50,348.63 L184.50,348.73 L185.50,348.94 L186.50,349.41 L187.50,349.44 L188.50,349.93 L189.50,350.18 L190.50,350.15 L191.50,350.45 L192.50,350.75 L193.50,351.00 L194.50,351.45 L195.50,351.56 L196.50,351.92 L197.50,352.04 L198.50,352.70 L199.50,352.69 L200.50,353.01 L201.50,353.34 L202.50,353.76 L203.50,353.78 L204.50,354.29 L205.50,354.35 L206.50,354.62 L207.50,354.88 L208.50,354.88 L209.50,355.35 L210.50,355.48 L211.50,355.65 L212.50,356.30 L213.50,356.24 L214.50,356.65 L215.50,357.03 L216.50,357.20 L217.50,357.34 L218.50,357.68 L219.50,357.95 L220.50,358.32 L221.50,358.23 L222.50,358.70 L223.50,358.79 L224.50,359.05 L225.50,359.55 L226.50,359.66 L227.50,359.93 L228.50,360.27 L229.50,360.59 L230.50,360.60 L231.50,360.93 L232.50,361.12 L233.50,361.37 L234.50,361.70 L235.50,361.83 L236.50,362.12 L237.50,362.34 L238.50,362.82 L239.50,362.94 L240.50,363.28 L241.50,363.56 L242.50,363.47 L243.50,363.87 L244.50,364.32 L245.50,364.51 L246.50,364.41 L247.50,364.65 L248.50,365.06 L249.50,365.12 L250.50,365.45 L251.50,365.61 L252.50,366.16 L253.50,366.45 L254.50,366.75 L255.50,366.62 L256.50,367.13 L257.50,367.34 L258.50,367.32 L259.50,367.92 L260.50,368.19 L261.50,368.05 L262.50,368.64 L263.50,368.59 L264.50,368.87 L265.50,369.35 L266.50,369.49 L267.50,369.38 L268.50,369.75 L269.50,370.01 L270.50,370.15 L271.50,370.31 L272.50,370.60 L273.50,371.02 L274.50,370.90 L275.50,371.40 L276.50,371.57 L277.50,371.59 L278.50,371.97 L279.50,372.35 L280.50,372.52 L281.50,372.53 L282.50,373.21 L283.50,373.34 L284.50,373.66 L285.50,373.45 L286.50,373.76 L287.50,373.86 L288.50,374.45 L289.50,374.42 L290.50,374.56 L291.50,374.92 L292.50,375.38 L293.50,375.54 L294.50,375.47 L295.50,375.62 L296.50,376.21 L297.50,376.23 L298.50,376.50 L299.50,376.39 L300.50,376.57 L301.50,377.09 L302.50,377.15 L303.50,377.18 L304.50,377.81 L305.50,377.85 L306.50,378.14 L307.50,377.98 L308.50,378.57 L309.50,378.38 L310.50,378.99 L311.50,379.00 L312.50,379.16 L313.50,379.48 L314.50,379.88 L315.50,379.77 L316.50,379.93 L317.50,380.35 L318.50,380.42 L319.50,380.58 L320.50,380.83" fill="none" stroke="#2e4fa3" stroke-width="1.2" stroke-linejoin="round" stroke-linecap="round" />
<rect x="69.7" y="312.6" width="253.8" height="211.5" fill="none" stroke="#231f20" stroke-width="1.4"/>
<line x1="69.70" y1="313.70" x2="74.70" y2="313.70" stroke="#231f20" stroke-width="1.2" />
<text x="67.00" y="318.30" font-size="12.9" text-anchor="end" >100</text>
<line x1="69.70" y1="355.40" x2="74.70" y2="355.40" stroke="#231f20" stroke-width="1.2" />
<text x="67.00" y="360.00" font-size="12.9" text-anchor="end" >90</text>
<line x1="69.70" y1="397.10" x2="74.70" y2="397.10" stroke="#231f20" stroke-width="1.2" />
<text x="67.00" y="401.70" font-size="12.9" text-anchor="end" >80</text>
<line x1="69.70" y1="438.80" x2="74.70" y2="438.80" stroke="#231f20" stroke-width="1.2" />
<text x="67.00" y="443.40" font-size="12.9" text-anchor="end" >70</text>
<line x1="69.70" y1="480.50" x2="74.70" y2="480.50" stroke="#231f20" stroke-width="1.2" />
<text x="67.00" y="485.10" font-size="12.9" text-anchor="end" >60</text>
<line x1="69.70" y1="522.20" x2="74.70" y2="522.20" stroke="#231f20" stroke-width="1.2" />
<text x="67.00" y="526.80" font-size="12.9" text-anchor="end" >50</text>
<line x1="71.40" y1="524.10" x2="71.40" y2="519.30" stroke="#231f20" stroke-width="1.2" />
<text x="71.40" y="539.60" font-size="12.8" text-anchor="middle" >0</text>
<line x1="114.02" y1="524.10" x2="114.02" y2="519.30" stroke="#231f20" stroke-width="1.2" />
<text x="114.02" y="539.60" font-size="12.8" text-anchor="middle" >2</text>
<line x1="156.64" y1="524.10" x2="156.64" y2="519.30" stroke="#231f20" stroke-width="1.2" />
<text x="156.64" y="539.60" font-size="12.8" text-anchor="middle" >4</text>
<line x1="199.26" y1="524.10" x2="199.26" y2="519.30" stroke="#231f20" stroke-width="1.2" />
<text x="199.26" y="539.60" font-size="12.8" text-anchor="middle" >6</text>
<line x1="241.88" y1="524.10" x2="241.88" y2="519.30" stroke="#231f20" stroke-width="1.2" />
<text x="241.88" y="539.60" font-size="12.8" text-anchor="middle" >8</text>
<line x1="284.50" y1="524.10" x2="284.50" y2="519.30" stroke="#231f20" stroke-width="1.2" />
<text x="284.50" y="539.60" font-size="12.8" text-anchor="middle" >10</text>
<line x1="323.50" y1="313.70" x2="318.50" y2="313.70" stroke="#231f20" stroke-width="1.2" />
<text x="326.60" y="318.30" font-size="12.8" text-anchor="start" >0</text>
<line x1="323.50" y1="336.92" x2="320.90" y2="336.92" stroke="#231f20" stroke-width="1.2" />
<line x1="323.50" y1="360.14" x2="320.90" y2="360.14" stroke="#231f20" stroke-width="1.2" />
<line x1="323.50" y1="383.36" x2="318.50" y2="383.36" stroke="#231f20" stroke-width="1.2" />
<text x="326.60" y="387.96" font-size="12.8" text-anchor="start" >6</text>
<line x1="323.50" y1="406.58" x2="320.90" y2="406.58" stroke="#231f20" stroke-width="1.2" />
<line x1="323.50" y1="429.80" x2="320.90" y2="429.80" stroke="#231f20" stroke-width="1.2" />
<line x1="323.50" y1="453.02" x2="318.50" y2="453.02" stroke="#231f20" stroke-width="1.2" />
<text x="326.60" y="457.62" font-size="12.8" text-anchor="start" >12</text>
<line x1="323.50" y1="476.24" x2="320.90" y2="476.24" stroke="#231f20" stroke-width="1.2" />
<line x1="323.50" y1="499.46" x2="320.90" y2="499.46" stroke="#231f20" stroke-width="1.2" />
<line x1="323.50" y1="522.68" x2="318.50" y2="522.68" stroke="#231f20" stroke-width="1.2" />
<text x="326.60" y="527.28" font-size="12.8" text-anchor="start" >18</text>
<text x="192.6" y="555.5" font-size="12.8" text-anchor="middle">Time (h)</text>
<text transform="translate(36.4,419.0) rotate(-90)" font-size="13.3" text-anchor="middle"><tspan font-style="italic">I</tspan><tspan font-size="8.6" font-style="italic" dy="4.4">d</tspan><tspan dy="-4.4">/ </tspan><tspan font-style="italic">I</tspan><tspan font-size="8.6" font-style="italic" dy="4.4">0</tspan><tspan dy="-4.4"> (%)</tspan></text>
<text transform="translate(349.0,414.0) rotate(90)" font-size="13.2" text-anchor="middle">ΔV<tspan font-size="8.4" dy="3.4">th</tspan><tspan dy="-3.4"> (mV)</tspan></text>
<defs><clipPath id="cd"><rect x="426.3" y="312.7" width="249.90000000000003" height="208.00000000000006"/></clipPath></defs>
<line x1="453.80" y1="325.40" x2="453.80" y2="520.70" stroke="#222" stroke-width="1.4" stroke-dasharray="3,2.9"/>
<path d="M426.40,312.90 L427.20,322.90 L428.00,330.10 L429.10,330.90 L429.75,330.10 L430.40,329.30 L431.20,330.90 L432.00,338.10 L432.80,344.15 L433.60,350.20 L434.45,352.60 L435.30,355.00 L436.10,356.20 L436.90,357.40 L437.50,358.50 L438.10,359.60 L438.70,360.70 L439.30,361.80 L440.10,360.00 L440.90,358.20 L441.50,355.80 L442.10,353.40 L442.70,351.00 L443.30,348.60 L444.10,345.90 L444.90,343.20 L445.70,340.50 L446.30,339.23 L446.90,337.95 L447.50,336.67 L448.10,335.40 L448.90,335.70 L449.70,336.00 L450.37,337.50 L451.03,339.00 L451.70,340.50 L452.37,343.20 L453.03,345.90 L453.70,348.60 L454.55,352.60 L455.40,356.60 L456.20,361.45 L457.00,366.30 L457.80,370.30 L458.60,374.30 L459.40,375.90 L460.20,377.50 L461.00,379.10 L461.64,379.74 L462.28,380.40 L462.92,381.04 L463.56,381.61 L464.20,382.46 L464.84,382.65 L465.48,382.72 L466.12,383.08 L466.76,383.66 L467.40,383.95 L468.04,384.57 L468.68,384.96 L469.32,385.54 L469.96,385.85 L470.60,385.71 L471.26,386.95 L471.91,387.61 L472.57,387.58 L473.23,387.55 L473.89,388.22 L474.54,387.75 L475.20,387.56 L475.81,388.94 L476.42,388.71 L477.03,389.94 L477.64,389.24 L478.25,388.70 L478.86,389.89 L479.47,391.64 L480.08,390.87 L480.69,390.64 L481.30,391.28 L481.91,392.15 L482.52,392.29 L483.13,392.28 L483.74,393.16 L484.35,392.89 L484.96,392.65 L485.57,393.15 L486.18,393.89 L486.79,393.67 L487.40,393.86 L488.01,392.76 L488.61,393.34 L489.22,393.88 L489.82,393.37 L490.43,394.18 L491.04,393.98 L491.64,394.21 L492.25,393.65 L492.85,395.23 L493.46,394.57 L494.06,393.83 L494.67,394.06 L495.28,395.49 L495.88,393.93 L496.49,394.66 L497.09,394.78 L497.70,394.30 L498.31,393.70 L498.92,394.49 L499.53,394.63 L500.14,395.10 L500.75,394.96 L501.36,394.58 L501.97,395.08 L502.58,394.96 L503.19,394.82 L503.80,394.78 L504.41,394.66 L505.02,395.22 L505.63,394.31 L506.24,394.58 L506.85,394.98 L507.46,394.21 L508.07,394.83 L508.68,394.01 L509.29,394.78 L509.90,395.51 L510.53,395.47 L511.16,395.09 L511.79,394.96 L512.42,394.27 L513.05,396.01 L513.68,395.25 L514.32,395.53 L514.95,394.41 L515.58,394.75 L516.21,393.81 L516.84,395.21 L517.47,395.25 L518.10,393.66 L518.74,394.50 L519.38,394.70 L520.01,393.21 L520.65,393.00 L521.29,393.24 L521.93,393.30 L522.56,392.70 L523.20,393.32 L523.84,393.67 L524.48,394.12 L525.11,394.40 L525.75,395.08 L526.39,395.13 L527.02,394.00 L527.66,394.68 L528.30,394.62 L528.93,394.78 L529.56,395.49 L530.19,395.71 L530.82,396.15 L531.45,395.17 L532.08,395.53 L532.72,396.37 L533.35,396.44 L533.98,396.55 L534.61,396.86 L535.24,396.64 L535.87,397.62 L536.50,397.59 L537.13,397.44 L537.76,397.21 L538.39,397.58 L539.02,396.27 L539.65,397.32 L540.28,397.97 L540.92,397.22 L541.55,398.25 L542.18,398.31 L542.81,397.57 L543.44,398.28 L544.07,398.34 L544.70,398.85 L545.36,398.97 L546.03,398.66 L546.69,398.24 L547.35,398.67 L548.01,398.75 L548.67,399.23 L549.34,399.02 L550.00,398.50 L550.61,398.17 L551.22,398.71 L551.82,398.52 L552.43,398.33 L553.04,398.89 L553.65,398.69 L554.26,399.03 L554.86,399.27 L555.47,398.76 L556.08,400.28 L556.69,398.83 L557.30,399.63 L557.90,399.10 L558.51,399.65 L559.12,397.74 L559.73,398.65 L560.34,399.21 L560.94,399.41 L561.55,400.38 L562.16,399.28 L562.77,399.81 L563.38,399.54 L563.98,399.65 L564.59,399.42 L565.20,399.06 L565.81,399.44 L566.42,398.58 L567.02,399.83 L567.63,398.63 L568.24,399.34 L568.85,400.38 L569.46,399.10 L570.06,399.24 L570.67,399.88 L571.28,399.26 L571.89,398.82 L572.50,399.41 L573.10,399.60 L573.71,399.68 L574.32,398.88 L574.93,400.27 L575.54,400.24 L576.14,399.34 L576.75,399.49 L577.36,399.11 L577.97,400.14 L578.58,398.98 L579.18,399.75 L579.79,399.13 L580.40,399.02 L581.01,399.80 L581.62,400.14 L582.22,399.40 L582.83,399.04 L583.44,399.86 L584.05,399.38 L584.66,399.58 L585.26,400.25 L585.87,400.04 L586.48,399.13 L587.09,400.68 L587.70,399.43 L588.30,399.86 L588.91,399.07 L589.52,399.41 L590.13,398.47 L590.74,400.42 L591.34,400.19 L591.95,398.77 L592.56,398.61 L593.17,398.55 L593.78,400.09 L594.38,399.19 L594.99,399.41 L595.60,399.28 L596.21,399.39 L596.82,398.86 L597.42,399.47 L598.03,398.67 L598.64,399.42 L599.25,399.63 L599.86,399.72 L600.46,399.34 L601.07,398.97 L601.68,399.56 L602.29,399.21 L602.90,400.34 L603.50,399.90 L604.11,399.41 L604.72,399.22 L605.33,399.10 L605.94,398.97 L606.54,399.29 L607.15,399.65 L607.76,399.77 L608.37,399.80 L608.98,400.65 L609.58,399.11 L610.19,399.51 L610.80,401.04 L611.41,398.47 L612.02,399.21 L612.62,399.59 L613.23,399.58 L613.84,399.72 L614.45,399.37 L615.06,399.70 L615.66,399.53 L616.27,399.92 L616.88,398.46 L617.49,399.01 L618.10,399.50 L618.70,398.93 L619.31,398.93 L619.92,399.85 L620.53,399.14 L621.14,399.85 L621.74,399.91 L622.35,399.67 L622.96,399.78 L623.57,399.44 L624.18,398.72 L624.78,399.48 L625.39,399.75 L626.00,399.21 L626.61,399.45 L627.22,399.91 L627.82,399.02 L628.43,399.85 L629.04,400.52 L629.65,399.19 L630.26,399.58 L630.86,399.42 L631.47,400.35 L632.08,399.67 L632.69,399.99 L633.30,399.12 L633.90,399.49 L634.51,399.49 L635.12,398.52 L635.73,400.29 L636.34,399.99 L636.94,398.54 L637.55,399.91 L638.16,399.43 L638.77,399.75 L639.38,399.70 L639.98,398.68 L640.59,399.38 L641.20,400.32 L641.81,399.18 L642.42,398.94 L643.03,398.75 L643.64,398.83 L644.25,399.68 L644.86,400.43 L645.47,399.74 L646.08,399.64 L646.69,400.73 L647.31,399.21 L647.92,399.13 L648.53,399.79 L649.14,399.80 L649.75,398.94 L650.36,398.86 L650.97,399.66 L651.58,399.64 L652.19,398.78 L652.80,399.39 L653.41,399.20 L654.02,399.75 L654.63,399.44 L655.24,399.45 L655.85,399.31 L656.46,400.08 L657.07,400.26 L657.68,399.30 L658.29,399.97 L658.91,399.08 L659.52,399.54 L660.13,399.91 L660.74,400.33 L661.35,399.29 L661.96,399.46 L662.57,399.61 L663.18,398.68 L663.79,399.51 L664.40,399.13 L665.01,399.70 L665.62,398.88 L666.23,398.41 L666.84,399.52 L667.45,399.64 L668.06,399.20 L668.67,399.99 L669.28,399.35 L669.89,399.17 L670.51,399.76 L671.12,398.64 L671.73,399.13 L672.34,399.49 L672.95,399.97 L673.56,399.41 L674.17,399.67 L674.78,399.14 L675.39,399.67 L676.00,399.50" fill="none" stroke="#e8161b" stroke-width="1.3" stroke-linejoin="round" stroke-linecap="round" clip-path="url(#cd)"/>
<path d="M426.90,390.60 L428.00,392.20 L429.10,399.50 L430.10,409.10 L431.20,414.70 L432.00,414.30 L432.80,413.90 L434.00,414.70 L434.65,415.95 L435.30,417.20 L436.10,421.20 L436.90,425.20 L437.70,425.60 L438.50,426.00 L439.30,424.80 L440.10,423.60 L440.90,424.00 L441.70,424.40 L442.50,424.00 L443.30,423.60 L444.10,422.00 L444.90,420.40 L445.70,418.80 L446.30,418.20 L446.90,417.60 L447.50,417.00 L448.10,416.40 L448.90,415.57 L449.70,414.73 L450.50,413.90 L451.30,413.10 L452.10,412.30 L452.90,412.70 L453.70,413.10 L454.55,414.30 L455.40,415.50 L456.00,416.93 L456.60,418.35 L457.20,419.77 L457.80,421.20 L458.60,423.60 L459.40,426.00 L460.20,428.40 L460.84,430.00 L461.48,431.60 L462.12,433.22 L462.76,434.75 L463.40,436.70 L464.04,437.42 L464.68,438.68 L465.32,439.87 L465.96,441.33 L466.60,441.58 L467.24,441.73 L467.88,443.71 L468.52,444.46 L469.16,445.00 L469.80,446.75 L470.48,445.56 L471.15,445.74 L471.82,446.26 L472.50,446.10 L473.18,446.97 L473.85,445.52 L474.52,446.14 L475.20,444.61 L475.81,447.14 L476.42,446.68 L477.03,447.58 L477.64,448.44 L478.25,447.45 L478.86,447.50 L479.47,447.56 L480.08,447.56 L480.69,447.86 L481.30,448.75 L481.94,448.48 L482.57,448.56 L483.21,448.49 L483.85,449.15 L484.49,448.98 L485.12,448.70 L485.76,449.20 L486.40,448.82 L487.04,448.33 L487.68,449.83 L488.31,449.34 L488.95,448.62 L489.59,449.81 L490.23,449.46 L490.86,448.48 L491.50,450.29 L492.14,449.65 L492.77,450.02 L493.41,449.70 L494.05,449.57 L494.69,448.86 L495.32,450.31 L495.96,449.85 L496.60,449.74 L497.24,450.16 L497.88,450.07 L498.51,450.46 L499.15,449.95 L499.79,450.19 L500.43,449.10 L501.06,450.10 L501.70,450.77 L502.31,451.20 L502.91,450.33 L503.52,450.53 L504.12,451.53 L504.73,450.54 L505.34,451.19 L505.94,451.78 L506.55,450.94 L507.15,451.66 L507.76,450.66 L508.36,451.23 L508.97,451.13 L509.58,451.30 L510.18,451.93 L510.79,452.69 L511.39,451.07 L512.00,451.18 L512.60,451.83 L513.20,451.03 L513.80,451.93 L514.40,452.03 L515.00,451.61 L515.60,452.11 L516.20,451.02 L516.80,452.34 L517.40,451.13 L518.00,451.65 L518.60,451.78 L519.20,451.91 L519.80,452.66 L520.40,452.29 L521.00,452.08 L521.60,452.65 L522.20,453.27 L522.81,452.37 L523.42,452.54 L524.03,452.99 L524.64,452.43 L525.25,451.54 L525.86,453.59 L526.47,453.40 L527.08,451.07 L527.69,452.11 L528.30,452.33 L528.91,452.50 L529.52,452.21 L530.13,451.56 L530.74,451.00 L531.35,451.51 L531.96,451.89 L532.57,450.59 L533.18,450.50 L533.79,450.92 L534.40,449.73 L535.03,450.63 L535.66,450.51 L536.29,450.98 L536.92,450.32 L537.55,450.20 L538.18,450.44 L538.82,450.61 L539.45,450.25 L540.08,450.60 L540.71,450.98 L541.34,451.20 L541.97,451.46 L542.60,450.07 L543.23,450.42 L543.86,449.44 L544.49,452.01 L545.12,450.72 L545.75,451.25 L546.38,451.71 L547.02,450.83 L547.65,451.99 L548.28,451.87 L548.91,451.03 L549.54,452.35 L550.17,453.00 L550.80,451.47 L551.41,453.06 L552.03,452.86 L552.64,453.12 L553.25,453.22 L553.87,453.82 L554.48,453.10 L555.09,453.82 L555.71,453.23 L556.32,453.98 L556.93,453.25 L557.55,453.76 L558.16,454.89 L558.77,454.31 L559.39,454.09 L560.00,453.67 L560.62,453.88 L561.24,454.44 L561.85,454.87 L562.47,454.61 L563.09,454.68 L563.71,454.39 L564.33,455.17 L564.95,454.23 L565.56,454.16 L566.18,454.97 L566.80,454.53 L567.42,454.36 L568.04,454.22 L568.65,454.41 L569.27,454.92 L569.89,454.79 L570.51,453.94 L571.13,454.86 L571.75,454.74 L572.36,454.11 L572.98,455.11 L573.60,454.55 L574.22,454.53 L574.84,455.17 L575.45,455.48 L576.07,454.39 L576.69,455.03 L577.31,454.33 L577.93,456.10 L578.55,454.57 L579.16,455.52 L579.78,454.53 L580.40,455.35 L581.01,456.13 L581.62,453.53 L582.22,454.70 L582.83,455.23 L583.44,454.92 L584.05,454.62 L584.66,456.18 L585.26,455.06 L585.87,454.12 L586.48,455.51 L587.09,454.11 L587.70,455.70 L588.30,454.76 L588.91,455.18 L589.52,455.80 L590.13,455.19 L590.74,454.37 L591.34,454.22 L591.95,455.82 L592.56,455.59 L593.17,454.75 L593.78,455.68 L594.38,455.50 L594.99,455.59 L595.60,454.01 L596.21,455.10 L596.82,455.77 L597.42,455.70 L598.03,455.79 L598.64,453.97 L599.25,455.43 L599.86,455.62 L600.46,456.77 L601.07,454.85 L601.68,455.21 L602.29,455.42 L602.90,455.91 L603.50,455.19 L604.11,456.08 L604.72,455.03 L605.33,455.62 L605.94,455.20 L606.54,455.59 L607.15,455.14 L607.76,454.65 L608.37,456.15 L608.98,455.72 L609.58,455.26 L610.19,455.70 L610.80,456.14 L611.41,455.07 L612.02,455.55 L612.62,455.91 L613.23,455.91 L613.84,455.44 L614.45,454.47 L615.06,456.31 L615.66,455.81 L616.27,455.64 L616.88,455.49 L617.49,455.79 L618.10,455.41 L618.70,455.09 L619.31,455.25 L619.92,455.33 L620.53,455.33 L621.14,455.03 L621.74,456.02 L622.35,454.96 L622.96,456.04 L623.57,455.13 L624.18,455.88 L624.78,456.45 L625.39,455.81 L626.00,455.30 L626.61,455.73 L627.22,455.79 L627.82,454.76 L628.43,455.38 L629.04,455.81 L629.65,455.47 L630.26,455.77 L630.86,456.14 L631.47,456.16 L632.08,456.24 L632.69,456.07 L633.30,455.59 L633.90,455.74 L634.51,455.61 L635.12,455.59 L635.73,455.67 L636.34,454.82 L636.94,455.59 L637.55,455.76 L638.16,455.24 L638.77,455.77 L639.38,456.07 L639.98,455.70 L640.59,456.94 L641.20,454.37 L641.81,455.69 L642.42,454.80 L643.03,456.35 L643.64,457.27 L644.25,454.44 L644.86,455.89 L645.47,456.11 L646.08,455.66 L646.69,456.13 L647.31,454.60 L647.92,456.31 L648.53,456.05 L649.14,455.86 L649.75,455.53 L650.36,456.20 L650.97,455.59 L651.58,455.98 L652.19,455.58 L652.80,454.63 L653.41,455.85 L654.02,455.98 L654.63,456.29 L655.24,455.40 L655.85,455.87 L656.46,456.23 L657.07,455.97 L657.68,456.58 L658.29,456.99 L658.91,455.40 L659.52,454.85 L660.13,456.38 L660.74,456.75 L661.35,456.42 L661.96,456.37 L662.57,455.58 L663.18,455.53 L663.79,456.42 L664.40,455.43 L665.01,454.94 L665.62,455.39 L666.23,457.31 L666.84,457.01 L667.45,455.57 L668.06,455.55 L668.67,456.09 L669.28,455.55 L669.89,456.69 L670.51,455.93 L671.12,455.37 L671.73,456.70 L672.34,455.66 L672.95,456.10 L673.56,455.98 L674.17,455.82 L674.78,456.17 L675.39,455.62 L676.00,456.00" fill="none" stroke="#2251a8" stroke-width="1.3" stroke-linejoin="round" stroke-linecap="round" clip-path="url(#cd)"/>
<path d="M426.60,453.60 L427.20,451.50 L428.00,449.30 L429.00,447.90 L429.70,444.30 L430.40,443.60 L431.20,447.20 L431.90,452.90 L432.60,457.20 L433.30,461.50 L434.30,463.60 L435.50,460.00 L436.20,461.80 L436.90,463.60 L437.60,466.85 L438.30,470.10 L439.05,473.30 L439.80,476.50 L440.50,478.00 L441.20,476.20 L441.90,474.40 L442.60,473.43 L443.30,472.47 L444.00,471.50 L444.60,470.80 L445.20,470.10 L445.80,469.40 L446.90,461.50 L447.60,457.90 L448.30,454.30 L449.03,452.87 L449.77,451.43 L450.50,450.00 L451.20,449.43 L451.90,448.87 L452.60,448.30 L453.35,448.45 L454.10,448.60 L454.80,449.65 L455.50,450.70 L456.23,452.40 L456.97,454.10 L457.70,455.80 L458.40,459.35 L459.10,462.90 L460.00,467.20 L460.90,471.50 L461.50,474.37 L462.10,477.23 L462.70,480.10 L463.40,484.40 L464.10,488.68 L464.80,492.82 L465.53,494.71 L466.27,496.63 L467.00,498.69 L467.70,499.92 L468.40,501.34 L469.10,502.36 L469.83,501.84 L470.57,501.87 L471.30,501.03 L472.00,502.67 L472.70,503.52 L473.40,504.02 L474.00,503.88 L474.60,504.10 L475.20,505.01 L475.80,504.71 L476.40,505.39 L477.00,505.55 L477.61,505.47 L478.23,506.27 L478.84,505.28 L479.46,505.56 L480.07,505.43 L480.69,505.58 L481.30,507.13 L481.98,507.32 L482.67,506.35 L483.35,506.74 L484.03,507.17 L484.72,507.02 L485.40,507.32 L486.00,505.88 L486.61,506.29 L487.21,506.98 L487.81,507.61 L488.42,506.85 L489.02,506.31 L489.63,506.65 L490.23,506.50 L490.83,506.42 L491.44,507.87 L492.04,506.63 L492.64,507.06 L493.25,508.38 L493.85,507.83 L494.46,507.36 L495.06,506.83 L495.66,507.48 L496.27,508.24 L496.87,507.68 L497.47,508.10 L498.08,507.44 L498.68,507.72 L499.29,507.33 L499.89,507.75 L500.49,508.31 L501.10,506.70 L501.70,507.56 L502.30,507.81 L502.90,507.39 L503.50,507.62 L504.10,508.34 L504.70,509.13 L505.30,508.38 L505.90,508.26 L506.50,507.20 L507.10,509.36 L507.70,508.31 L508.30,508.31 L508.90,507.73 L509.50,508.43 L510.10,507.88 L510.70,508.64 L511.30,508.95 L511.90,508.75 L512.50,508.97 L513.10,508.36 L513.70,509.79 L514.30,508.61 L514.90,507.98 L515.50,509.02 L516.10,508.74 L516.74,508.55 L517.38,508.90 L518.01,509.24 L518.65,508.32 L519.29,508.90 L519.92,509.79 L520.56,509.30 L521.20,508.76 L521.84,508.88 L522.48,508.69 L523.11,508.69 L523.75,509.11 L524.39,508.58 L525.02,507.14 L525.66,508.53 L526.30,507.97 L526.92,508.74 L527.55,507.84 L528.17,508.15 L528.79,509.22 L529.42,507.14 L530.04,506.95 L530.66,506.63 L531.28,505.89 L531.91,506.06 L532.53,507.26 L533.15,506.51 L533.78,505.63 L534.40,505.71 L535.02,506.67 L535.64,505.53 L536.26,505.48 L536.88,505.60 L537.50,505.91 L538.12,505.96 L538.74,505.12 L539.36,504.29 L539.98,504.01 L540.60,504.68 L541.28,504.14 L541.97,502.78 L542.65,502.92 L543.33,502.51 L544.02,502.05 L544.70,501.40 L545.38,501.19 L546.07,501.95 L546.75,501.62 L547.43,503.57 L548.12,503.44 L548.80,502.68 L549.41,504.63 L550.02,504.72 L550.63,503.42 L551.24,506.06 L551.85,505.84 L552.46,506.98 L553.07,505.39 L553.68,506.84 L554.29,507.16 L554.90,507.42 L555.54,507.64 L556.17,508.41 L556.81,507.12 L557.45,507.50 L558.09,507.65 L558.73,508.39 L559.36,508.60 L560.00,509.42 L560.62,509.37 L561.24,509.24 L561.85,508.83 L562.47,508.98 L563.09,509.83 L563.71,509.73 L564.33,509.35 L564.95,509.10 L565.56,510.24 L566.18,508.96 L566.80,509.72 L567.42,510.04 L568.04,509.20 L568.65,509.86 L569.27,508.71 L569.89,510.00 L570.51,509.53 L571.13,508.47 L571.75,509.83 L572.36,508.91 L572.98,510.22 L573.60,509.06 L574.22,509.38 L574.84,509.66 L575.45,509.30 L576.07,509.67 L576.69,509.20 L577.31,509.94 L577.93,509.55 L578.55,509.69 L579.16,507.92 L579.78,510.28 L580.40,509.62 L581.00,508.53 L581.60,509.66 L582.21,509.88 L582.81,510.24 L583.41,508.95 L584.01,510.53 L584.61,509.50 L585.22,511.04 L585.82,509.51 L586.42,510.01 L587.02,509.38 L587.62,508.93 L588.23,510.26 L588.83,510.14 L589.43,510.52 L590.03,510.11 L590.63,509.26 L591.24,508.60 L591.84,509.21 L592.44,509.19 L593.04,509.11 L593.64,509.95 L594.25,509.80 L594.85,509.44 L595.45,509.70 L596.05,509.51 L596.65,509.73 L597.26,510.05 L597.86,510.18 L598.46,509.19 L599.06,508.70 L599.66,510.46 L600.27,509.67 L600.87,510.26 L601.47,508.61 L602.07,509.40 L602.67,509.62 L603.28,508.74 L603.88,509.29 L604.48,510.03 L605.08,510.25 L605.68,510.56 L606.29,509.08 L606.89,508.76 L607.49,509.91 L608.09,510.16 L608.69,509.72 L609.30,508.82 L609.90,510.07 L610.50,510.08 L611.10,509.93 L611.70,509.31 L612.30,509.78 L612.91,510.07 L613.51,509.26 L614.11,508.49 L614.71,509.80 L615.31,509.89 L615.92,509.61 L616.52,510.13 L617.12,509.25 L617.72,509.55 L618.32,509.42 L618.93,509.94 L619.53,510.56 L620.13,509.45 L620.73,510.83 L621.33,510.52 L621.94,510.07 L622.54,509.95 L623.14,510.66 L623.74,509.49 L624.34,509.53 L624.95,508.96 L625.55,509.88 L626.15,510.41 L626.75,509.92 L627.35,509.85 L627.96,509.48 L628.56,509.70 L629.16,508.74 L629.76,510.23 L630.36,509.35 L630.97,508.94 L631.57,509.15 L632.17,509.11 L632.77,510.11 L633.37,510.23 L633.98,508.79 L634.58,510.16 L635.18,510.13 L635.78,509.25 L636.38,508.71 L636.99,509.15 L637.59,509.22 L638.19,509.81 L638.79,509.39 L639.39,508.38 L640.00,509.74 L640.60,508.68 L641.20,510.14 L641.81,508.88 L642.42,509.19 L643.03,509.10 L643.64,509.30 L644.25,510.41 L644.86,510.14 L645.47,510.00 L646.08,509.83 L646.69,508.72 L647.31,509.34 L647.92,509.33 L648.53,509.08 L649.14,509.97 L649.75,509.23 L650.36,509.25 L650.97,509.06 L651.58,508.45 L652.19,510.05 L652.80,510.50 L653.41,509.81 L654.02,509.12 L654.63,508.09 L655.24,509.82 L655.85,510.46 L656.46,509.91 L657.07,510.29 L657.68,510.63 L658.29,510.42 L658.91,509.49 L659.52,510.39 L660.13,510.23 L660.74,508.85 L661.35,509.53 L661.96,508.92 L662.57,509.72 L663.18,510.14 L663.79,509.15 L664.40,508.57 L665.01,510.58 L665.62,510.04 L666.23,510.70 L666.84,509.03 L667.45,510.46 L668.06,511.08 L668.67,511.04 L669.28,509.72 L669.89,510.01 L670.51,509.76 L671.12,510.46 L671.73,510.49 L672.34,509.92 L672.95,509.06 L673.56,510.32 L674.17,509.60 L674.78,510.27 L675.39,510.05 L676.00,509.90" fill="none" stroke="#0a0a0a" stroke-width="1.3" stroke-linejoin="round" stroke-linecap="round" clip-path="url(#cd)"/>
<rect x="426.3" y="312.7" width="249.90000000000003" height="208.00000000000006" fill="none" stroke="#231f20" stroke-width="1.4" stroke-linejoin="round"/>
<text x="426.80" y="536.60" font-size="12.8" text-anchor="middle" >0.2</text>
<line x1="458.00" y1="312.70" x2="458.00" y2="315.30" stroke="#231f20" stroke-width="1.2" />
<line x1="458.00" y1="520.70" x2="458.00" y2="518.10" stroke="#231f20" stroke-width="1.2" />
<line x1="489.20" y1="312.70" x2="489.20" y2="317.40" stroke="#231f20" stroke-width="1.2" />
<line x1="489.20" y1="520.70" x2="489.20" y2="516.00" stroke="#231f20" stroke-width="1.2" />
<text x="489.20" y="536.60" font-size="12.8" text-anchor="middle" >0.4</text>
<line x1="520.40" y1="312.70" x2="520.40" y2="315.30" stroke="#231f20" stroke-width="1.2" />
<line x1="520.40" y1="520.70" x2="520.40" y2="518.10" stroke="#231f20" stroke-width="1.2" />
<line x1="551.60" y1="312.70" x2="551.60" y2="317.40" stroke="#231f20" stroke-width="1.2" />
<line x1="551.60" y1="520.70" x2="551.60" y2="516.00" stroke="#231f20" stroke-width="1.2" />
<text x="551.60" y="536.60" font-size="12.8" text-anchor="middle" >0.6</text>
<line x1="582.80" y1="312.70" x2="582.80" y2="315.30" stroke="#231f20" stroke-width="1.2" />
<line x1="582.80" y1="520.70" x2="582.80" y2="518.10" stroke="#231f20" stroke-width="1.2" />
<line x1="614.00" y1="312.70" x2="614.00" y2="317.40" stroke="#231f20" stroke-width="1.2" />
<line x1="614.00" y1="520.70" x2="614.00" y2="516.00" stroke="#231f20" stroke-width="1.2" />
<text x="614.00" y="536.60" font-size="12.8" text-anchor="middle" >0.8</text>
<line x1="645.20" y1="312.70" x2="645.20" y2="315.30" stroke="#231f20" stroke-width="1.2" />
<line x1="645.20" y1="520.70" x2="645.20" y2="518.10" stroke="#231f20" stroke-width="1.2" />
<text x="676.40" y="536.60" font-size="12.8" text-anchor="middle" >1.0</text>
<line x1="426.30" y1="347.30" x2="430.90" y2="347.30" stroke="#231f20" stroke-width="1.2" />
<line x1="426.30" y1="382.20" x2="430.90" y2="382.20" stroke="#231f20" stroke-width="1.2" />
<line x1="426.30" y1="416.80" x2="430.90" y2="416.80" stroke="#231f20" stroke-width="1.2" />
<line x1="426.30" y1="451.40" x2="430.90" y2="451.40" stroke="#231f20" stroke-width="1.2" />
<line x1="426.30" y1="486.10" x2="430.90" y2="486.10" stroke="#231f20" stroke-width="1.2" />
<text x="554.6" y="553" font-size="13" text-anchor="middle">q<tspan font-size="8.0" dy="4.4">z</tspan><tspan dy="-4.4"> (Å</tspan><tspan font-size="8.6" dy="-3.6">-1</tspan><tspan dy="3.6">)</tspan></text>
<text transform="translate(413.9,420.7) rotate(-90)" font-size="13.3" text-anchor="middle">log(Intensity)</text>
<text x="480.60" y="340.20" font-size="13.2" text-anchor="middle" >(100)</text>
<text x="536.50" y="385.80" font-size="13.2" text-anchor="middle" >(200)</text>
</svg>
</body></html>
